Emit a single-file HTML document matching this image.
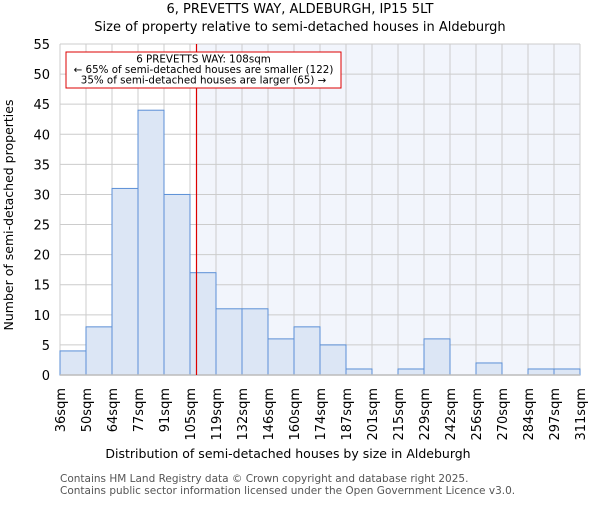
<!DOCTYPE html>
<html><head><meta charset="utf-8"><style>body{margin:0;background:#fff}svg{font-family:"DejaVu Sans","Liberation Sans",sans-serif}</style></head>
<body>
<svg id="c" width="600" height="500">
<text x="300" y="13" text-anchor="middle" font-size="13">6, PREVETTS WAY, ALDEBURGH, IP15 5LT</text>
<text x="300" y="31" text-anchor="middle" font-size="13">Size of property relative to semi-detached houses in Aldeburgh</text>
<g id="plot"></g>
<text x="288" y="458" text-anchor="middle" font-size="12.5">Distribution of semi-detached houses by size in Aldeburgh</text>
<text transform="translate(13,215) rotate(-90)" text-anchor="middle" font-size="12.5">Number of semi-detached properties</text>
<text x="60" y="482" font-size="10.5" fill="#555">Contains HM Land Registry data © Crown copyright and database right 2025.</text>
<text x="60" y="494" font-size="10.5" fill="#555">Contains public sector information licensed under the Open Government Licence v3.0.</text>
</svg>
<script>
const binLabels=["36sqm","50sqm","64sqm","77sqm","91sqm","105sqm","119sqm","132sqm","146sqm","160sqm","174sqm","187sqm","201sqm","215sqm","229sqm","242sqm","256sqm","270sqm","284sqm","297sqm","311sqm"];
const counts=[4,8,31,44,30,17,11,11,6,8,5,1,0,1,6,0,2,0,1,1];
const yTicks=[0,5,10,15,20,25,30,35,40,45,50,55];
const propertyIndex=5.25;
const L=60,R=580,T=44,B=375,yMax=55;
const ns="http://www.w3.org/2000/svg";
const g=document.getElementById('plot');
const xs=i=>L+(R-L)*i/counts.length;
const ys=v=>B-(B-T)*v/yMax;
function mk(t,a){const e=document.createElementNS(ns,t);for(const k in a)e.setAttribute(k,a[k]);g.appendChild(e);return e;}
const px=xs(propertyIndex);
let e=mk('rect',{x:L,y:T,width:px-L,height:B-T,fill:'#fff'});


e=mk('rect',{x:px,y:T,width:R-px,height:B-T,fill:'#f2f5fc'});


yTicks.forEach(v=>{
 e=mk('line',{x1:L,x2:R,y1:ys(v),y2:ys(v),stroke:'#ccc'});
 
 
 e=mk('text',{x:L-10,y:ys(v)+5,'text-anchor':'end','font-size':13});
 e.textContent=v;
 
 
});
binLabels.forEach((l,i)=>{
 const x=xs(i);
 e=mk('line',{x1:x,x2:x,y1:T,y2:B,stroke:'#ccc'});
 
 
 e=mk('text',{transform:`translate(${x+5},388) rotate(-90)`,'text-anchor':'end','font-size':13});
 e.textContent=l;
 
 
});
counts.forEach((c,i)=>{
 if(c<=0)return;
 e=mk('rect',{x:xs(i),y:ys(c),width:xs(i+1)-xs(i),height:B-ys(c),fill:'#dce6f5',stroke:'#5b8fd6','stroke-width':1});
 
 
});
e=mk('line',{x1:L,x2:R,y1:B,y2:B,stroke:'#bbb','stroke-width':1.5});


e=mk('line',{x1:px,x2:px,y1:T,y2:B,stroke:'#d00','stroke-width':1.2});


e=mk('rect',{x:66,y:52,width:275,height:36,fill:'#fff',stroke:'#d00','stroke-width':1});


["6 PREVETTS WAY: 108sqm","← 65% of semi-detached houses are smaller (122)","35% of semi-detached houses are larger (65) →"].forEach((t,i)=>{
 e=mk('text',{x:203.5,y:62.5+i*10.5,'text-anchor':'middle','font-size':10.3});
 e.textContent=t;
 
 
});
</script>
</body></html>
